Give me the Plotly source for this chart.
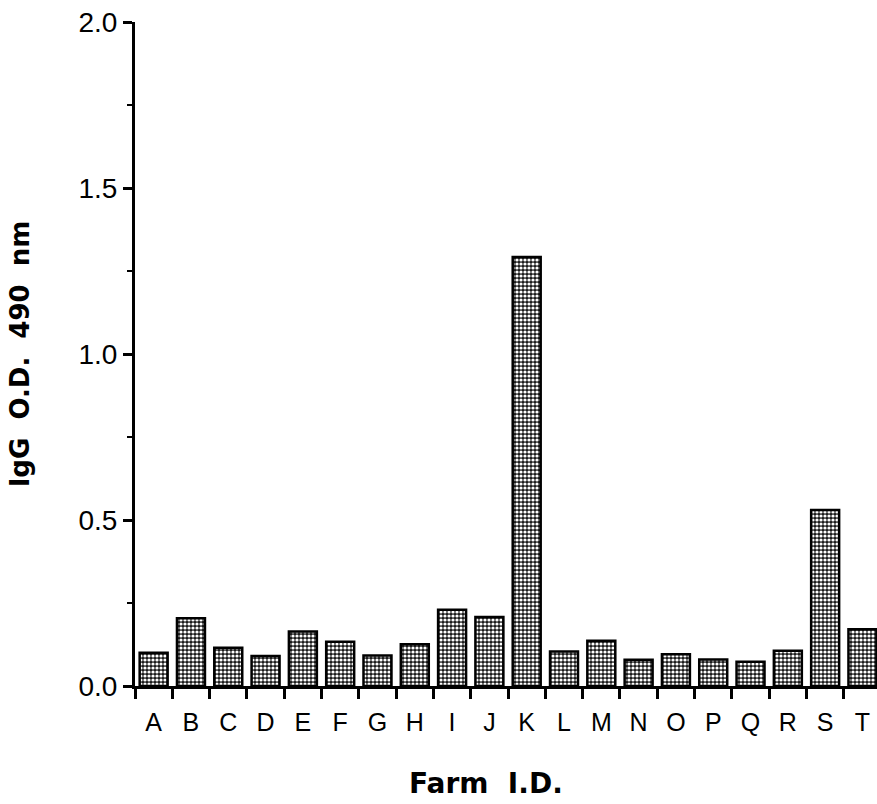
import plotly.graph_objects as go

farms = list("ABCDEFGHIJKLMNOPQRST")
igg_od = [0.100, 0.204, 0.115, 0.090, 0.164, 0.133, 0.092, 0.126, 0.230, 0.208,
          1.292, 0.104, 0.136, 0.079, 0.096, 0.080, 0.073, 0.106, 0.530, 0.171]
y_ticks = [0.0, 0.5, 1.0, 1.5, 2.0]
y_tick_labels = ["0.0", "0.5", "1.0", "1.5", "2.0"]

fig = go.Figure(go.Bar(
    x=farms, y=igg_od, width=0.75,
    marker=dict(color="#555555",
                line=dict(color="black", width=2.5),
                pattern=dict(shape=".", fgcolor="white", bgcolor="#1a1a1a",
                             size=4, solidity=0.5, fillmode="replace")),
))

font = "Liberation Sans, Arial, sans-serif"
bold = "DejaVu Sans, sans-serif"
fig.update_layout(
    width=877, height=804,
    margin=dict(l=135, r=0, t=22, b=118),
    plot_bgcolor="white", paper_bgcolor="white",
    showlegend=False, bargap=0.25,
    font=dict(family=font, color="black"),
    annotations=[dict(text="<b>Farm  I.D.</b>", xref="paper", yref="paper",
                      x=(486 - 135) / 742, y=-(783 - 686) / 664, xanchor="center", yanchor="middle",
                      showarrow=False, font=dict(size=28, family=bold, color="black"))],
)
fig.update_xaxes(
    range=[-0.5, 19.39], showgrid=False, showline=True, linecolor="black", linewidth=3,
    ticks="outside", tickson="boundaries", ticklen=10, tickwidth=3, tickcolor="black",
    tickfont=dict(size=25, family=font), ticklabelstandoff=12,
)
fig.update_yaxes(
    range=[0, 2.0], showgrid=False, zeroline=False, showline=True, linecolor="black", linewidth=3,
    tickvals=y_ticks, ticktext=y_tick_labels,
    ticks="outside", ticklen=9, tickwidth=3, tickcolor="black",
    minor=dict(tickvals=[0.25, 0.75, 1.25, 1.75], ticks="outside", ticklen=5, tickwidth=2, tickcolor="black"),
    tickfont=dict(size=28, family=font),
    title=dict(text="<b>IgG  O.D.  490  nm</b>", font=dict(size=26, family=bold), standoff=42),
)
fig.write_html("out.html")
